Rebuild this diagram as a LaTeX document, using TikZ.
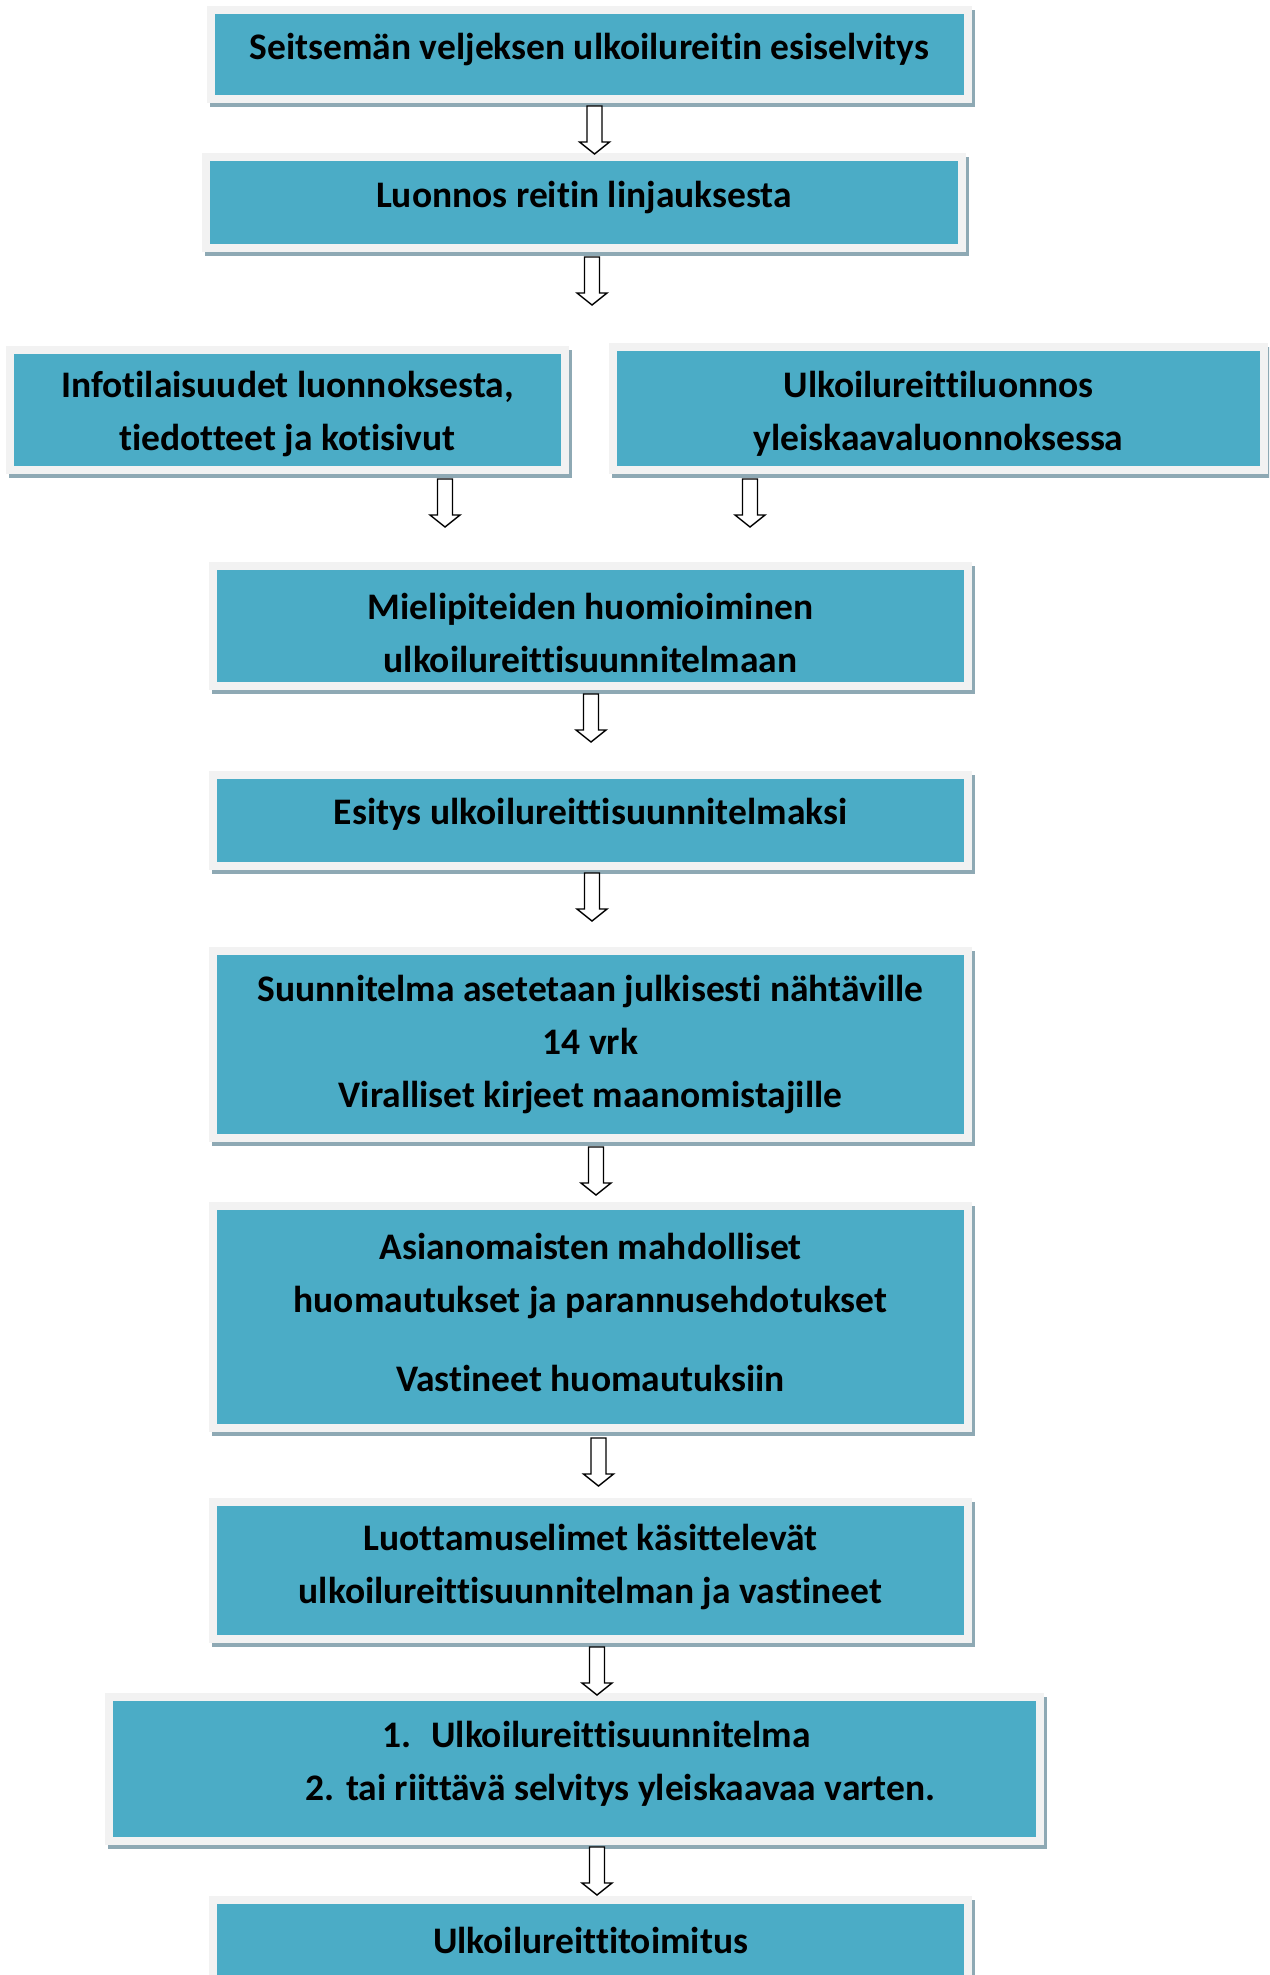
\documentclass[tikz,border=0pt]{standalone}
\usepackage{fontspec}
\setmainfont{Carlito}[Ligatures=NoCommon]
\definecolor{boxfill}{HTML}{4BACC6}
\definecolor{boxframe}{HTML}{F2F2F2}
\definecolor{boxshade}{HTML}{8EA9B4}
\begin{document}
\begin{tikzpicture}[x=1pt,y=-1pt,
	box/.style={rectangle, fill=boxfill, draw=boxframe, line width=8pt, inner sep=0pt,
		preaction={fill=boxshade, draw=boxshade, line width=8pt, transform canvas={xshift=3pt,yshift=-4pt}}},
	txt/.style={font=\bfseries\fontsize{37.5}{53}\selectfont, align=center, inner sep=0pt},
	pile/.style={draw=black, line width=1.4pt, fill=white, line join=miter}]

	\clip (0,0) rectangle (1269,1975);
	\fill[white] (0,0) rectangle (1269,1975);

	% Boxes
	\node[box, minimum width=757pt, minimum height=89pt,
		label={[txt,yshift=4.5pt]center:{Seitsemän veljeksen ulkoilureitin esiselvitys}}] (esisel) at (589.5,54.5) {};
	\node[box, minimum width=756pt, minimum height=91pt,
		label={[txt,yshift=4.5pt]center:{Luonnos reitin linjauksesta}}] (luonnos) at (584,202.5) {};
	\node[box, minimum width=555pt, minimum height=120pt,
		label={[txt,yshift=-4pt]center:{Infotilaisuudet luonnoksesta,\\tiedotteet ja kotisivut}}] (info) at (287.5,410) {};
	\node[box, minimum width=651pt, minimum height=123pt,
		label={[txt,yshift=-5pt]center:{Ulkoilureittiluonnos\\yleiskaavaluonnoksessa}}] (ykluonnos) at (938.5,408.5) {};
	\node[box, minimum width=755pt, minimum height=120pt,
		label={[txt,yshift=-6.5pt]center:{Mielipiteiden huomioiminen\\ulkoilureittisuunnitelmaan}}] (mielip) at (590.5,626) {};
	\node[box, minimum width=755pt, minimum height=91pt,
		label={[txt,yshift=6.5pt]center:{Esitys ulkoilureittisuunnitelmaksi}}] (esitys) at (590.5,820.5) {};
	\node[box, minimum width=755pt, minimum height=187pt,
		label={[txt,yshift=0.5pt]center:{Suunnitelma asetetaan julkisesti nähtäville\\14 vrk\\Viralliset kirjeet maanomistajille}}] (nahtav) at (590.5,1044.5) {};
	\node[box, minimum width=755pt, minimum height=222pt,
		label={[txt,yshift=5pt]center:{Asianomaisten mahdolliset\\huomautukset ja parannusehdotukset\\[26pt]Vastineet huomautuksiin}}] (huomaut) at (590.5,1317) {};
	\node[box, minimum width=755pt, minimum height=137pt,
		label={[txt,yshift=4pt]center:{Luottamuselimet käsittelevät\\ulkoilureittisuunnitelman ja vastineet}}] (luottam) at (590.5,1570.5) {};
	\node[box, minimum width=931pt, minimum height=144pt,
		label={[txt,xshift=46pt,yshift=5pt]center:{1.\hspace{20pt}Ulkoilureittisuunnitelma\rule{48pt}{0pt}\\2. tai riittävä selvitys yleiskaavaa varten.}}] (suunn) at (574.5,1769) {};
	\node[box, minimum width=755pt, minimum height=91pt,
		label={[txt,yshift=5pt]center:{Ulkoilureittitoimitus}}] (toimitus) at (590.5,1945.5) {};

	% Arrows
	\foreach \x/\y in {594.5/106, 592/257, 445/479, 750/479, 591/694, 592/873, 596/1147, 598.5/1438, 597/1647, 597/1847}
		\draw[pile] (\x-7.5,\y) -- (\x+7.5,\y) -- (\x+7.5,\y+36) -- (\x+15,\y+36) -- (\x,\y+48)
			-- (\x-15,\y+36) -- (\x-7.5,\y+36) -- cycle;

\end{tikzpicture}
\end{document}
